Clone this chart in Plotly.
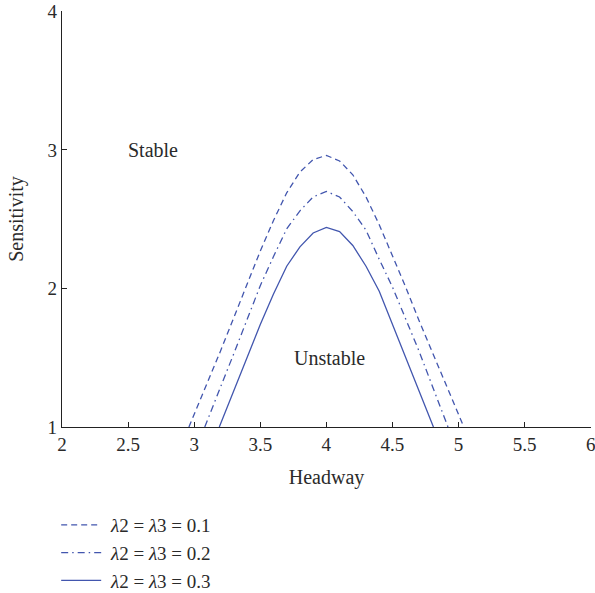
import plotly.graph_objects as go

# Data
x_01 = [2.96, 3.0, 3.1, 3.2, 3.3, 3.4, 3.5, 3.6, 3.7, 3.8, 3.9, 4.0, 4.1, 4.2, 4.3, 4.4, 4.5, 4.6, 4.7, 4.8, 4.9, 5.0, 5.04]
y_01 = [1.00, 1.09, 1.32, 1.55, 1.79, 2.03, 2.27, 2.49, 2.69, 2.84, 2.93, 2.96, 2.92, 2.82, 2.66, 2.46, 2.24, 2.01, 1.77, 1.54, 1.31, 1.08, 1.00]

x_02 = [3.08, 3.1, 3.2, 3.3, 3.4, 3.5, 3.6, 3.7, 3.8, 3.9, 4.0, 4.1, 4.2, 4.3, 4.4, 4.5, 4.6, 4.7, 4.8, 4.9, 4.92]
y_02 = [1.00, 1.05, 1.29, 1.53, 1.78, 2.02, 2.23, 2.43, 2.56, 2.66, 2.70, 2.66, 2.555, 2.42, 2.21, 2.01, 1.78, 1.55, 1.30, 1.05, 1.00]

x_03 = [3.19, 3.3, 3.4, 3.5, 3.6, 3.7, 3.8, 3.9, 4.0, 4.1, 4.2, 4.3, 4.4, 4.5, 4.6, 4.7, 4.8, 4.81]
y_03 = [1.00, 1.26, 1.50, 1.74, 1.96, 2.16, 2.30, 2.40, 2.44, 2.41, 2.31, 2.16, 1.98, 1.74, 1.50, 1.27, 1.03, 1.00]

labels = ["\u00a0<i>λ</i>2 = <i>λ</i>3 = 0.1", "\u00a0<i>λ</i>2 = <i>λ</i>3 = 0.2", "\u00a0<i>λ</i>2 = <i>λ</i>3 = 0.3"]
x_ticks = [2, 2.5, 3, 3.5, 4, 4.5, 5, 5.5, 6]
y_ticks = [1, 2, 3, 4]

color = "#4256ae"
font_family = "Liberation Serif"
text_color = "#2a2a2a"

fig = go.Figure()
series = [(x_01, y_01, "6px,4px"), (x_02, y_02, "7px,4px,1.5px,4px"), (x_03, y_03, "solid")]
for i, ((xs, ys, dash), name) in enumerate(zip(series, labels)):
    fig.add_trace(go.Scatter(x=xs, y=ys, mode="lines", name=name,
                             line=dict(color=color, width=1.3, dash=dash)))

fig.add_annotation(x=2.685, y=3.0, text="Stable", showarrow=False,
                   font=dict(family=font_family, size=20, color=text_color))
fig.add_annotation(x=4.02, y=1.5, text="Unstable", showarrow=False,
                   font=dict(family=font_family, size=20, color=text_color))

axis_common = dict(showgrid=False, zeroline=False, showline=True, linecolor="#222", linewidth=1.3,
                   ticks="inside", ticklen=5, tickwidth=1.2, tickcolor="#222",
                   ticklabeloverflow="allow",
                   tickfont=dict(family=font_family, size=19, color=text_color),
                   title_font=dict(family=font_family, size=20, color=text_color))

fig.update_layout(
    width=595, height=593,
    margin=dict(l=62, r=4, t=11, b=166, autoexpand=False),
    paper_bgcolor="white", plot_bgcolor="white",
    xaxis=dict(range=[2, 6.002], tickvals=x_ticks, ticktext=[str(t) for t in x_ticks],
               title=dict(text="Headway", standoff=16), **axis_common),
    yaxis=dict(range=[1, 4.002], tickvals=y_ticks, title=dict(text="Sensitivity", standoff=18), **axis_common),
    showlegend=True,
    legend=dict(x=-0.011, y=-0.19, xanchor="left", yanchor="top",
                font=dict(family=font_family, size=19, color=text_color),
                bgcolor="rgba(0,0,0,0)", itemwidth=40),
)

fig.write_html("out.html")
